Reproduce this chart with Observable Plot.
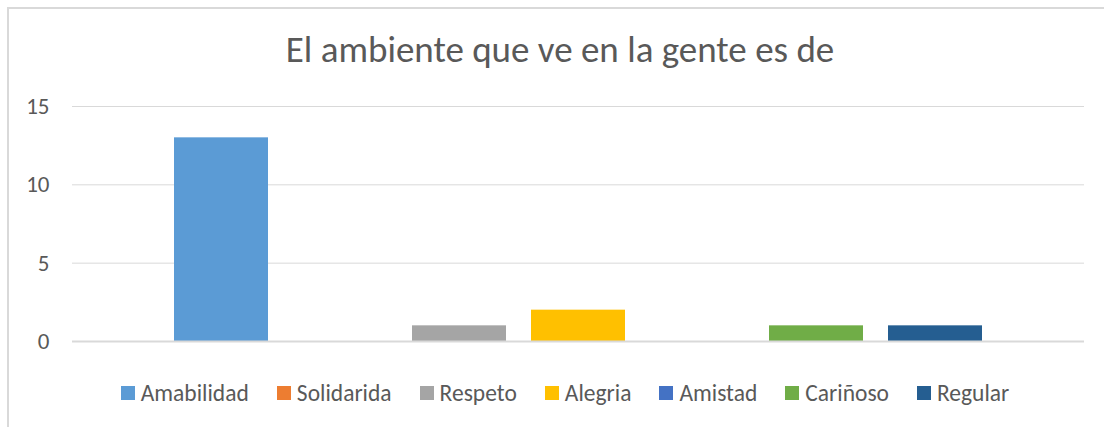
<!DOCTYPE html>
<html>
<head>
<meta charset="utf-8">
<script src="https://cdn.jsdelivr.net/npm/d3@7"></script>
<script src="https://cdn.jsdelivr.net/npm/@observablehq/plot@0.6"></script>
<style>
  html, body { margin: 0; padding: 0; background: #fff; overflow: hidden; width: 1104px; height: 427px; }
  body { position: relative; font-family: Carlito, Calibri, Lato, "Open Sans", sans-serif; color: #595959; }
  #border { position: absolute; left: 7px; top: 7px; width: 1200px; height: 600px; border: 2px solid #D9D9D9; box-sizing: border-box; }
  #title { position: relative; height: 80px; line-height: 99px; text-align: center; font-size: 37px; color: #595959; white-space: nowrap; padding-left: 16px; }
  #chart { position: relative; }
  #chart svg text { font-size: 23px !important; }
  #legend { position: relative; display: flex; justify-content: center; padding-top: 6px; padding-left: 26px; }
  #legend > div { margin: 0 !important; font-size: 23.5px !important; }
  #legend span { margin-right: 28px !important; }
  #legend span:last-child { margin-right: 0 !important; }
  #legend span svg { margin-right: 6px !important; }
</style>
</head>
<body>
<div id="border"></div>
<div id="title">El ambiente que ve en la gente es de</div>
<div id="chart"></div>
<div id="legend"></div>
<script>
const series = ["Amabilidad", "Solidarida", "Respeto", "Alegria", "Amistad", "Cariñoso", "Regular"];
const values = [13, 0, 1, 2, 0, 1, 1];
const colors = ["#5B9BD5", "#ED7D31", "#A5A5A5", "#FFC000", "#4472C4", "#70AD47", "#255E91"];
const yTicks = [0, 5, 10, 15];

const data = series.map((s, i) => ({series: s, value: values[i]}));

const font = 'Carlito, Calibri, Lato, "Open Sans", sans-serif';

const plot = Plot.plot({
  width: 1104,
  height: 290,
  marginLeft: 72,
  marginRight: 20,
  marginTop: 26,
  marginBottom: 29,
  style: {fontFamily: font, fontSize: "23px", color: "#595959", background: "transparent"},
  x: {domain: series, paddingInner: 0.21, paddingOuter: 0.857, axis: null},
  y: {domain: [0, 15], ticks: yTicks, label: null},
  color: {domain: series, range: colors},
  marks: [
    Plot.gridY(yTicks, {stroke: "#D9D9D9", strokeOpacity: 1, strokeWidth: 1}),
    Plot.axisY(yTicks, {tickSize: 0, tickPadding: 23, label: null, fill: "#595959", fontSize: 23}),
    Plot.barY(data, {x: "series", y: "value", fill: "series"}),
    Plot.ruleY([0], {stroke: "#D9D9D9", strokeWidth: 2})
  ]
});
document.getElementById("chart").appendChild(plot);

const leg = plot.legend("color", {
  swatchSize: 14,
  style: {fontFamily: font, fontSize: "23.5px", color: "#595959"}
});
document.getElementById("legend").appendChild(leg);
</script>
</body>
</html>
